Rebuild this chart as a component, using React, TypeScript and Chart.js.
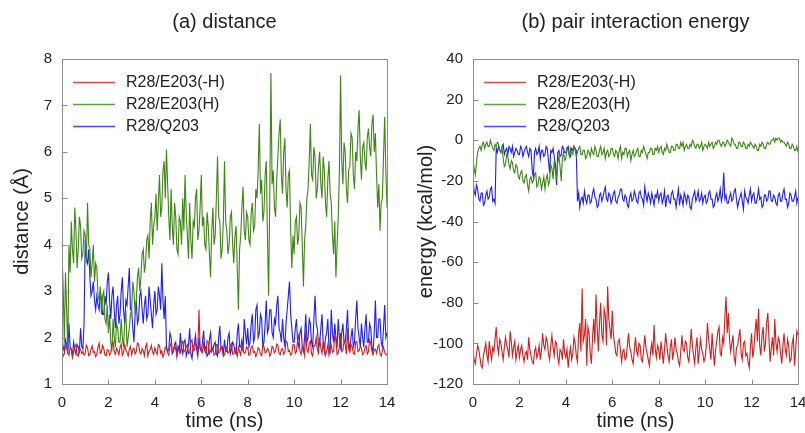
import React, { useEffect, useRef } from "react";
import { Chart, registerables } from "chart.js";

Chart.register(...registerables);

// ---------- data (sampled every 0.05 ns) ----------
const timeNs: number[] = [
  0.00, 0.05, 0.10, 0.15, 0.20, 0.25, 0.30, 0.35, 0.40, 0.45, 0.50, 0.55, 0.60, 0.65, 0.70, 0.75, 0.80, 0.85, 0.90, 0.95,
  1.00, 1.05, 1.10, 1.15, 1.20, 1.25, 1.30, 1.35, 1.40, 1.45, 1.50, 1.55, 1.60, 1.65, 1.70, 1.75, 1.80, 1.85, 1.90, 1.95,
  2.00, 2.05, 2.10, 2.15, 2.20, 2.25, 2.30, 2.35, 2.40, 2.45, 2.50, 2.55, 2.60, 2.65, 2.70, 2.75, 2.80, 2.85, 2.90, 2.95,
  3.00, 3.05, 3.10, 3.15, 3.20, 3.25, 3.30, 3.35, 3.40, 3.45, 3.50, 3.55, 3.60, 3.65, 3.70, 3.75, 3.80, 3.85, 3.90, 3.95,
  4.00, 4.05, 4.10, 4.15, 4.20, 4.25, 4.30, 4.35, 4.40, 4.45, 4.50, 4.55, 4.60, 4.65, 4.70, 4.75, 4.80, 4.85, 4.90, 4.95,
  5.00, 5.05, 5.10, 5.15, 5.20, 5.25, 5.30, 5.35, 5.40, 5.45, 5.50, 5.55, 5.60, 5.65, 5.70, 5.75, 5.80, 5.85, 5.90, 5.95,
  6.00, 6.05, 6.10, 6.15, 6.20, 6.25, 6.30, 6.35, 6.40, 6.45, 6.50, 6.55, 6.60, 6.65, 6.70, 6.75, 6.80, 6.85, 6.90, 6.95,
  7.00, 7.05, 7.10, 7.15, 7.20, 7.25, 7.30, 7.35, 7.40, 7.45, 7.50, 7.55, 7.60, 7.65, 7.70, 7.75, 7.80, 7.85, 7.90, 7.95,
  8.00, 8.05, 8.10, 8.15, 8.20, 8.25, 8.30, 8.35, 8.40, 8.45, 8.50, 8.55, 8.60, 8.65, 8.70, 8.75, 8.80, 8.85, 8.90, 8.95,
  9.00, 9.05, 9.10, 9.15, 9.20, 9.25, 9.30, 9.35, 9.40, 9.45, 9.50, 9.55, 9.60, 9.65, 9.70, 9.75, 9.80, 9.85, 9.90, 9.95,
  10.00, 10.05, 10.10, 10.15, 10.20, 10.25, 10.30, 10.35, 10.40, 10.45, 10.50, 10.55, 10.60, 10.65, 10.70, 10.75, 10.80, 10.85, 10.90, 10.95,
  11.00, 11.05, 11.10, 11.15, 11.20, 11.25, 11.30, 11.35, 11.40, 11.45, 11.50, 11.55, 11.60, 11.65, 11.70, 11.75, 11.80, 11.85, 11.90, 11.95,
  12.00, 12.05, 12.10, 12.15, 12.20, 12.25, 12.30, 12.35, 12.40, 12.45, 12.50, 12.55, 12.60, 12.65, 12.70, 12.75, 12.80, 12.85, 12.90, 12.95,
  13.00, 13.05, 13.10, 13.15, 13.20, 13.25, 13.30, 13.35, 13.40, 13.45, 13.50, 13.55, 13.60, 13.65, 13.70, 13.75, 13.80, 13.85, 13.90, 13.95,
  14.00,
];

const seriesNames: string[] = ["R28/E203(-H)", "R28/E203(H)", "R28/Q203"];

// (a) distance (Å)
const distE203noH: number[] = [
  1.72, 1.60, 1.65, 1.83, 1.80, 1.66, 1.62, 1.78, 1.75, 1.58, 1.68, 1.81, 1.85, 1.64, 1.60, 1.77, 1.74, 1.66, 1.70, 1.62,
  1.66, 1.84, 1.78, 1.61, 1.63, 1.75, 1.82, 1.68, 1.70, 1.59, 1.64, 1.80, 1.88, 1.66, 1.69, 1.83, 1.76, 1.62, 1.61, 1.74,
  1.73, 1.62, 1.67, 1.85, 1.90, 1.70, 1.64, 1.77, 1.71, 1.63, 1.79, 1.86, 1.62, 1.68, 1.84, 1.73, 1.68, 1.60, 1.75, 1.81,
  1.63, 1.74, 1.77, 1.65, 1.70, 1.88, 1.86, 1.69, 1.65, 1.76, 1.72, 1.61, 1.80, 1.87, 1.60, 1.70, 1.74, 1.83, 1.69, 1.64,
  1.78, 1.70, 1.64, 1.85, 1.83, 1.66, 1.71, 1.58, 1.66, 1.79, 1.76, 1.67, 1.62, 1.82, 1.88, 1.69, 1.70, 1.84, 1.74, 1.63,
  1.80, 1.73, 1.67, 1.88, 1.92, 1.70, 1.72, 1.81, 1.85, 1.66, 1.68, 1.90, 1.95, 1.71, 1.73, 1.86, 1.82, 1.70, 2.60, 1.78,
  1.75, 1.68, 1.86, 1.72, 1.66, 1.93, 1.90, 1.65, 1.71, 1.80, 1.78, 1.62, 1.64, 1.85, 1.84, 1.67, 1.70, 1.79, 1.76, 1.60,
  1.63, 1.75, 1.80, 1.66, 1.69, 1.82, 1.87, 1.64, 1.65, 1.77, 1.74, 1.60, 1.79, 1.70, 1.62, 1.84, 1.72, 1.66, 1.68, 1.80,
  1.77, 1.62, 1.64, 1.80, 1.82, 1.68, 1.70, 1.59, 1.66, 1.78, 1.75, 1.64, 1.61, 1.83, 1.80, 1.67, 1.69, 1.76, 1.73, 1.60,
  1.65, 1.81, 1.78, 1.67, 1.71, 1.86, 1.84, 1.66, 1.63, 1.74, 1.76, 1.64, 1.68, 1.93, 1.90, 1.70, 1.72, 1.62, 1.66, 1.85,
  1.85, 1.66, 1.70, 1.95, 2.05, 1.72, 1.64, 1.80, 1.78, 1.62, 2.15, 1.74, 1.68, 1.88, 1.92, 1.65, 1.60, 1.83, 1.82, 2.00,
  1.74, 1.66, 2.00, 1.78, 1.66, 1.90, 1.88, 1.62, 1.70, 1.84, 1.62, 1.75, 1.84, 1.68, 1.71, 2.05, 1.95, 1.64, 1.67, 1.80,
  2.10, 1.70, 1.73, 1.92, 1.86, 1.64, 2.20, 1.75, 1.69, 1.85, 1.80, 1.66, 1.64, 1.90, 1.92, 1.70, 1.72, 1.81, 1.77, 1.63,
  1.66, 1.78, 1.82, 1.65, 1.70, 1.95, 1.88, 1.70, 1.63, 1.74, 1.75, 1.66, 1.79, 1.85, 1.65, 1.60, 1.72, 1.80, 1.68, 1.64,
  1.62,
];
const distE203H: number[] = [
  3.8, 3.1, 1.9, 3.4, 2.6, 1.7, 4.0, 3.4, 4.5, 3.9, 3.6, 4.8, 4.3, 3.5, 3.9, 4.6, 4.4, 3.7, 3.8, 4.3,
  4.2, 3.6, 4.9, 4.0, 3.9, 3.3, 3.6, 4.0, 3.2, 3.6, 3.5, 2.9, 2.8, 3.1, 2.5, 2.9, 3.0, 2.4, 2.3, 2.7,
  2.1, 2.5, 1.9, 1.7, 2.4, 2.0, 1.8, 2.3, 2.2, 1.9, 1.9, 2.4, 2.0, 1.8, 2.3, 2.6, 1.8, 2.0, 2.2, 2.5,
  2.6, 3.2, 3.0, 2.5, 2.8, 3.3, 3.5, 3.0, 3.3, 3.8, 3.9, 3.4, 3.6, 4.1, 4.2, 3.7, 4.5, 4.9, 4.0, 4.4,
  4.6, 5.1, 4.3, 4.9, 5.5, 4.6, 4.8, 5.6, 5.8, 5.0, 6.05, 5.3, 4.6, 4.1, 5.2, 4.4, 4.0, 4.9, 4.6, 3.9,
  3.8, 4.6, 4.5, 4.0, 5.0, 4.3, 5.5, 4.7, 4.2, 3.7, 4.9, 4.1, 3.7, 4.5, 4.4, 5.0, 5.2, 4.1, 4.3, 4.8,
  5.5, 4.4, 4.6, 4.0, 3.9, 4.7, 4.4, 3.8, 3.3, 4.3, 4.8, 4.0, 4.2, 5.0, 5.9, 4.6, 4.5, 3.7, 3.9, 4.5,
  5.8, 4.5, 4.3, 3.8, 4.0, 4.6, 4.7, 4.0, 3.6, 4.2, 4.4, 3.5, 2.6, 3.9, 4.2, 4.8, 5.25, 4.3, 4.1, 4.7,
  4.6, 4.1, 4.0, 4.7, 4.9, 4.3, 4.4, 5.2, 5.0, 5.6, 6.6, 5.1, 5.4, 4.5, 4.7, 5.5, 5.8, 4.2, 2.9, 5.0,
  7.7, 5.3, 5.6, 4.8, 4.6, 5.4, 5.9, 6.4, 6.7, 5.5, 5.1, 6.0, 6.3, 5.2, 4.8, 5.5, 5.6, 4.3, 3.5, 4.2,
  3.8, 4.5, 4.6, 4.0, 4.2, 4.9, 4.8, 4.0, 3.1, 4.1, 4.4, 5.0, 5.2, 5.8, 6.6, 5.5, 5.4, 6.1, 5.9, 5.0,
  5.2, 5.7, 6.0, 5.3, 5.0, 5.9, 5.6, 4.9, 4.6, 5.4, 5.8, 5.1, 4.9, 4.2, 3.8, 4.5, 3.3, 4.0, 4.6, 5.6,
  7.65, 5.8, 5.3, 6.2, 6.0, 5.2, 4.9, 5.6, 5.7, 6.4, 6.3, 5.5, 5.2, 6.0, 5.8, 6.5, 6.9, 5.9, 5.4, 6.1,
  6.2, 5.8, 5.6, 6.3, 6.5, 6.1, 5.9, 6.6, 6.8, 6.0, 6.4, 5.5, 4.8, 5.3, 4.3, 4.9, 5.0, 5.9, 6.75, 5.6,
  4.8,
];
const distQ203: number[] = [
  2.0, 1.8, 1.7, 1.95, 1.85, 1.65, 2.3, 1.8, 1.75, 1.6, 1.9, 1.75, 1.65, 1.85, 1.8, 1.7, 2.2, 1.8, 1.75, 2.3,
  4.1, 3.7, 3.6, 3.9, 3.3, 2.9, 3.0, 3.2, 2.8, 2.6, 2.9, 2.7, 2.6, 3.0, 2.8, 2.5, 2.5, 2.9, 2.7, 3.2,
  3.4, 2.8, 2.4, 2.9, 3.1, 2.6, 2.2, 2.7, 2.9, 2.3, 2.5, 3.0, 3.3, 2.6, 2.3, 2.8, 2.7, 3.1, 3.5, 2.6,
  2.6, 2.2, 1.9, 2.5, 2.8, 2.3, 2.4, 2.9, 3.0, 2.6, 2.3, 2.7, 2.9, 2.4, 2.5, 3.1, 2.8, 2.5, 2.2, 2.7,
  3.0, 2.5, 2.6, 3.1, 2.9, 2.6, 3.6, 2.8, 2.4, 2.9, 1.8, 1.7, 1.75, 2.1, 2.0, 1.65, 1.7, 1.85, 1.9, 1.6,
  1.8, 1.7, 2.1, 1.75, 1.65, 1.9, 1.95, 1.6, 1.7, 1.85, 2.2, 1.65, 1.55, 1.8, 1.85, 2.05, 1.75, 1.6, 2.0, 1.75,
  1.7, 1.9, 2.15, 1.75, 1.8, 1.6, 1.65, 1.95, 2.1, 1.7, 1.75, 1.85, 1.9, 1.65, 1.6, 2.0, 2.25, 1.75, 1.8, 1.65,
  1.95, 1.7, 1.7, 2.0, 2.1, 1.65, 1.75, 1.9, 1.85, 1.7, 1.65, 2.1, 2.3, 1.8, 1.8, 1.95, 1.7, 2.4, 2.1, 1.85,
  2.2, 1.8, 1.9, 2.3, 2.5, 1.9, 2.0, 2.6, 2.7, 2.0, 2.1, 2.5, 2.4, 1.8, 1.9, 2.3, 2.8, 2.1, 2.2, 2.6,
  2.6, 2.1, 2.0, 2.4, 2.3, 2.7, 2.9, 2.2, 2.1, 1.9, 2.4, 2.0, 1.8, 2.3, 2.6, 2.9, 3.2, 2.5, 2.2, 1.9,
  1.9, 2.2, 2.4, 1.9, 1.8, 2.1, 2.2, 1.8, 1.7, 2.0, 2.5, 1.9, 2.0, 2.4, 2.3, 1.9, 1.8, 2.4, 2.9, 2.3,
  2.2, 1.8, 1.9, 2.2, 2.5, 1.9, 1.7, 2.0, 2.1, 2.4, 1.8, 1.7, 2.6, 2.1, 1.9, 2.3, 2.0, 1.8, 2.4, 2.0,
  1.8, 2.1, 2.3, 1.9, 1.9, 2.2, 2.6, 1.9, 1.75, 2.0, 2.2, 1.8, 1.9, 2.4, 2.8, 2.2, 2.0, 1.8, 2.3, 2.0,
  1.8, 2.2, 2.5, 1.9, 1.9, 2.3, 2.2, 1.8, 1.7, 2.1, 2.8, 2.0, 2.0, 2.4, 2.4, 1.9, 1.8, 2.2, 2.7, 2.0,
  2.1,
];

// (b) pair interaction energy (kcal/mol)
const enerE203noH: number[] = [
  -104, -108, -110, -105, -101, -103, -107, -111, -112, -106, -103, -100, -106, -109, -99, -104, -108, -102, -104, -98,
  -92, -101, -105, -98, -100, -104, -108, -102, -97, -101, -103, -107, -94, -99, -106, -102, -99, -108, -104, -101,
  -107, -103, -101, -106, -109, -105, -104, -108, -97, -103, -106, -109, -110, -104, -102, -107, -105, -101, -108, -103,
  -95, -101, -103, -97, -99, -105, -108, -101, -96, -102, -106, -99, -100, -107, -110, -103, -104, -108, -98, -105,
  -107, -103, -112, -106, -102, -108, -105, -97, -100, -106, -109, -95, -90, -104, -73, -99, -96, -88, -111, -92,
  -95, -105, -110, -97, -88, -100, -76, -92, -104, -90, -80, -96, -99, -83, -86, -101, -72, -88, -93, -98,
  -84, -96, -100, -105, -106, -99, -98, -103, -109, -104, -103, -108, -107, -101, -95, -102, -104, -108, -110, -103,
  -97, -104, -106, -100, -101, -108, -109, -103, -96, -102, -105, -108, -111, -104, -100, -106, -91, -103, -107, -101,
  -103, -108, -99, -104, -110, -103, -95, -101, -106, -109, -102, -98, -108, -104, -97, -103, -105, -109, -111, -104,
  -96, -103, -104, -99, -100, -107, -109, -102, -93, -101, -106, -110, -102, -97, -110, -104, -98, -103, -105, -109,
  -107, -101, -90, -98, -103, -108, -95, -104, -111, -103, -99, -94, -92, -105, -106, -97, -100, -87, -77, -95,
  -85, -98, -104, -100, -96, -107, -110, -102, -101, -97, -93, -105, -108, -100, -99, -106, -105, -109, -112, -102,
  -95, -107, -103, -94, -88, -99, -83, -101, -106, -96, -92, -104, -100, -90, -85, -98, -109, -102, -97, -106,
  -88, -100, -104, -97, -99, -105, -110, -101, -95, -103, -106, -98, -101, -109, -108, -100, -97, -111, -103, -94,
  -96,
];
const enerE203H: number[] = [
  -10, -14, -17, -11, -6, -4, -3, -5, -2, -1, -4, -2, -1, -3, -3, 0, -2, -4, -5, -2,
  -3, -1, -2, -5, -6, -4, -9, -13, -12, -7, -8, -12, -14, -10, -11, -15, -16, -12, -13, -18,
  -19, -16, -15, -20, -21, -18, -17, -22, -25, -19, -18, -21, -20, -17, -16, -23, -22, -18, -19, -24,
  -21, -18, -24, -19, -17, -22, -20, -12, -14, -19, -10, -15, -18, -11, -8, -13, -20, -9, -6, -10,
  -9, -4, -5, -8, -4, -6, -7, -3, -5, -8, -6, -4, -3, -7, -7, -5, -5, -9, -8, -5,
  -6, -8, -4, -6, -7, -3, -5, -8, -8, -5, -3, -7, -6, -4, -9, -6, -5, -8, -7, -4,
  -4, -7, -8, -5, -6, -9, -5, -3, -9, -6, -7, -4, -4, -8, -6, -5, -10, -7, -5, -8,
  -7, -5, -4, -8, -8, -5, -6, -3, -5, -7, -9, -6, -6, -4, -4, -7, -7, -4, -5, -3,
  -6, -4, -3, -6, -7, -4, -5, -2, -4, -6, -6, -3, -3, -5, -5, -2, -2, -4, -4, -1,
  -3, -1, -5, -3, -2, -4, -4, -2, -3, 0, -1, -3, -4, -2, -2, -4, -3, -1, -5, -3,
  -2, -3, -4, -1, -3, -2, -1, -4, -3, -1, -2, 0, 0, -2, -3, -1, -1, -3, -2, 0,
  -1, -2, -3, 1, 0, -2, -2, -4, -4, -1, -1, -3, -3, -1, -2, -4, -4, -2, -3, -1,
  -2, -3, -4, -2, -3, -5, -5, -2, -3, -1, -2, -4, -4, -2, -1, -2, -2, 0, 0, 1,
  -1, 1, 0, 1, 1, -1, 0, -1, -1, -2, -3, -1, -2, -4, -4, -2, -3, -5, -5, -3,
  -6,
];
const enerQ203: number[] = [
  -20, -25, -27, -22, -24, -29, -30, -26, -26, -32, -31, -27, -25, -29, -28, -24, -23, -30, -29, -31,
  -4, -6, -3, -5, -6, -3, -2, -7, -5, -4, -7, -3, -4, -6, -3, -8, -6, -4, -5, -7,
  -7, -3, -4, -8, -6, -4, -3, -6, -8, -4, -5, -15, -18, -6, -4, -7, -6, -3, -9, -5,
  -5, -8, -7, -3, -4, -10, -16, -5, -6, -4, -8, -12, -22, -6, -5, -8, -7, -3, -4, -6,
  -6, -4, -3, -7, -8, -4, -5, -3, -4, -5, -30, -26, -33, -29, -28, -31, -25, -29, -31, -27,
  -27, -31, -30, -26, -24, -28, -29, -33, -32, -27, -26, -30, -28, -25, -23, -29, -30, -26, -27, -31,
  -29, -26, -25, -30, -31, -28, -27, -24, -24, -29, -30, -27, -28, -32, -33, -28, -26, -30, -29, -25,
  -27, -30, -31, -26, -25, -28, -29, -32, -23, -27, -30, -26, -28, -31, -26, -29, -32, -27, -28, -25,
  -30, -27, -26, -31, -29, -25, -33, -28, -27, -30, -31, -26, -25, -29, -29, -33, -28, -24, -32, -27,
  -29, -32, -26, -28, -31, -27, -28, -33, -34, -29, -27, -25, -30, -28, -25, -30, -29, -26, -31, -28,
  -27, -31, -30, -26, -25, -29, -29, -33, -32, -28, -26, -30, -28, -24, -30, -27, -16, -29, -27, -31,
  -31, -28, -26, -30, -29, -25, -24, -29, -33, -30, -28, -26, -30, -34, -25, -28, -29, -31, -27, -24,
  -30, -27, -26, -31, -31, -28, -24, -29, -28, -33, -32, -27, -27, -30, -29, -25, -25, -30, -30, -27,
  -28, -31, -32, -27, -26, -30, -30, -26, -24, -29, -29, -33, -31, -26, -27, -30, -30, -28, -25, -31,
  -28,
];

const xTicks: number[] = [0, 2, 4, 6, 8, 10, 12, 14];
const distTicks: number[] = [1, 2, 3, 4, 5, 6, 7, 8];
const energyTicks: number[] = [-120, -100, -80, -60, -40, -20, 0, 20, 40];

// ---------- styles ----------
const FONT = "'Liberation Sans', Arial, Helvetica, sans-serif";
const TEXT = "#222222";
const COLORS = ["#d41c1c", "#3d8615", "#1c1cff"];

const toPoints = (ys: number[]) => ys.map((y, i) => ({ x: timeNs[i], y }));

const framePlugin = {
  id: "frameTicks",
  afterDatasetsDraw(chart: any) {
    const { ctx, chartArea: a, scales } = chart;
    ctx.save();
    ctx.strokeStyle = "#8c8c8c";
    ctx.lineWidth = 1;
    const l = Math.round(a.left) + 0.5;
    const t = Math.round(a.top) + 0.5;
    const r = Math.round(a.right) + 0.5;
    const b = Math.round(a.bottom) + 0.5;
    ctx.beginPath();
    ctx.rect(l, t, r - l, b - t);
    scales.x.ticks.forEach((tk: any) => {
      const px = Math.round(scales.x.getPixelForValue(tk.value)) + 0.5;
      ctx.moveTo(px, b);
      ctx.lineTo(px, b - 5);
    });
    scales.y.ticks.forEach((tk: any) => {
      const py = Math.round(scales.y.getPixelForValue(tk.value)) + 0.5;
      ctx.moveTo(l, py);
      ctx.lineTo(l + 5, py);
    });
    ctx.stroke();

    // legend inside plot, top-left
    const rows = [82, 104, 126];
    chart.data.datasets.forEach((ds: any, i: number) => {
      const y = rows[i];
      ctx.beginPath();
      ctx.strokeStyle = ds.borderColor;
      ctx.globalAlpha = 0.8;
      ctx.lineWidth = 1.3;
      ctx.moveTo(a.left + 11, y + 0.5);
      ctx.lineTo(a.left + 53, y + 0.5);
      ctx.stroke();
      ctx.globalAlpha = 1;
      ctx.fillStyle = TEXT;
      ctx.font = `16px ${FONT}`;
      ctx.textBaseline = "middle";
      ctx.textAlign = "left";
      ctx.fillText(ds.label, a.left + 64, y + 1);
    });
    ctx.restore();
  },
};

function makeConfig(opts: {
  title: string;
  yTitle: string;
  series: number[][];
  yTicks: number[];
  yWidth: number;
  yTitlePad: number;
  rightPad: number;
}): any {
  const { title, yTitle, series, yTicks, yWidth, yTitlePad, rightPad } = opts;
  return {
    type: "line",
    data: {
      datasets: series.map((s, i) => ({
        label: seriesNames[i],
        data: toPoints(s),
        borderColor: COLORS[i],
        backgroundColor: COLORS[i],
        borderWidth: 1.1,
        pointRadius: 0,
        tension: 0,
        fill: false,
      })),
    },
    options: {
      responsive: false,
      animation: false,
      events: [],
      layout: { padding: { left: 0, right: rightPad, top: 0, bottom: 0 } },
      plugins: {
        legend: { display: false },
        tooltip: { enabled: false },
        title: {
          display: true,
          fullSize: false,
          text: title,
          color: TEXT,
          font: { family: FONT, size: 20, weight: "normal", lineHeight: 1.2 },
          padding: { top: 10, bottom: 25 },
        },
      },
      scales: {
        x: {
          type: "linear",
          min: xTicks[0],
          max: xTicks[xTicks.length - 1],
          afterBuildTicks: (s: any) => {
            s.ticks = xTicks.map((v) => ({ value: v }));
          },
          afterFit: (s: any) => {
            s.height = 49;
          },
          grid: { display: false },
          border: { display: false },
          ticks: {
            color: TEXT,
            font: { family: FONT, size: 15 },
            padding: 2,
            maxRotation: 0,
            autoSkip: false,
          },
          title: {
            display: true,
            text: "time (ns)",
            color: TEXT,
            font: { family: FONT, size: 20, lineHeight: 1.2 },
            padding: { top: 0, bottom: 0 },
          },
        },
        y: {
          type: "linear",
          min: yTicks[0],
          max: yTicks[yTicks.length - 1],
          afterBuildTicks: (s: any) => {
            s.ticks = yTicks.map((v) => ({ value: v }));
          },
          afterFit: (s: any) => {
            s.width = yWidth;
          },
          grid: { display: false },
          border: { display: false },
          ticks: {
            color: TEXT,
            font: { family: FONT, size: 15 },
            padding: 2,
            autoSkip: false,
          },
          title: {
            display: true,
            text: yTitle,
            color: TEXT,
            font: { family: FONT, size: 20, lineHeight: 1.2 },
            padding: { top: yTitlePad, bottom: 0 },
          },
        },
      },
    },
    plugins: [framePlugin],
  };
}

export default function App() {
  const leftRef = useRef<HTMLCanvasElement | null>(null);
  const rightRef = useRef<HTMLCanvasElement | null>(null);

  useEffect(() => {
    const left = new Chart(
      leftRef.current as HTMLCanvasElement,
      makeConfig({
        title: "(a) distance",
        yTitle: "distance (Å)",
        series: [distE203noH, distE203H, distQ203],
        yTicks: distTicks,
        yWidth: 62,
        yTitlePad: 10,
        rightPad: 13,
      })
    );
    const right = new Chart(
      rightRef.current as HTMLCanvasElement,
      makeConfig({
        title: "(b) pair interaction energy",
        yTitle: "energy (kcal/mol)",
        series: [enerE203noH, enerE203H, enerQ203],
        yTicks: energyTicks,
        yWidth: 73,
        yTitlePad: 14.5,
        rightPad: 22,
      })
    );
    return () => {
      left.destroy();
      right.destroy();
    };
  }, []);

  return (
    <div
      style={{
        position: "fixed",
        left: 0,
        top: 0,
        width: 805,
        height: 433,
        overflow: "hidden",
        background: "#ffffff",
      }}
    >
      <canvas
        ref={leftRef}
        width={400}
        height={433}
        style={{ position: "absolute", left: 0, top: 0, width: 400, height: 433 }}
      />
      <canvas
        ref={rightRef}
        width={420}
        height={433}
        style={{ position: "absolute", left: 400, top: 0, width: 420, height: 433 }}
      />
    </div>
  );
}
